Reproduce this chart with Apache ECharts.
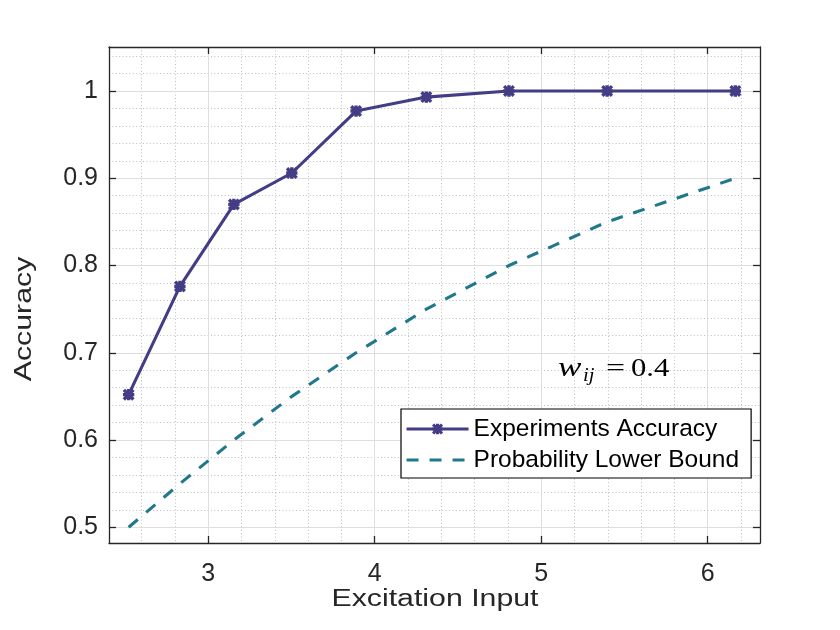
<!DOCTYPE html>
<html><head><meta charset="utf-8">
<script src="https://cdn.jsdelivr.net/npm/echarts@6/dist/echarts.min.js"></script>
<style>html,body{margin:0;padding:0;background:#fff}#c{width:840px;height:630px}</style>
</head><body><div id="c"></div>
<script>
// ---- data ----
const excitation = [2.522, 2.830, 3.154, 3.502, 3.888, 4.310, 4.806, 5.396, 6.166];
const accuracy   = [0.652, 0.776, 0.870, 0.906, 0.977, 0.993, 1.000, 1.000, 1.000];
const lowerBound = [0.50, 0.55, 0.60, 0.65, 0.70, 0.75, 0.80, 0.85, 0.90];
const seriesNames = ['Experiments Accuracy', 'Probability Lower Bound'];
const xTicks = [3, 4, 5, 6];
const yTicks = [0.5, 0.6, 0.7, 0.8, 0.9, 1.0];
const xMinorTicks = [2.6, 2.8, 3.2, 3.4, 3.6, 3.8, 4.2, 4.4, 4.6, 4.8, 5.2, 5.4, 5.6, 5.8, 6.2];
const yMinorTicks = [0.52, 0.54, 0.56, 0.58, 0.62, 0.64, 0.66, 0.68, 0.72, 0.74, 0.76, 0.78,
                     0.82, 0.84, 0.86, 0.88, 0.92, 0.94, 0.96, 0.98, 1.02, 1.04];
const xRange = [2.404, 6.314];
const yRange = [0.482, 1.0504];
const xTitle = 'Excitation Input';
const yTitle = 'Accuracy';

// ---- style ----
const axisColor = '#262626';
const purple = '#433d86';
const teal = '#21788c';
const asterisk = 'path://M7 0H13V20H7Z M0 7H20V13H0Z M3.6 -0.6L20.6 16.4L16.4 20.6L-0.6 3.6Z M20.6 3.6L3.6 20.6L-0.6 16.4L16.4 -0.6Z';

const lineCfg = {show: true, onZero: false, lineStyle: {color: axisColor, width: 1.3}};
const tickCfg = (vals) => ({show: true, inside: true, length: 7, customValues: vals, lineStyle: {color: axisColor, width: 1.3}});
const labelFont = {color: axisColor, fontSize: 25, fontFamily: 'Liberation Sans'};
const majorSplit = {show: true, lineStyle: {color: '#dedede', width: 1}};
const minorSplit = {show: true, lineStyle: {color: '#bdbdbd', width: 1, type: [1, 2.4]}};

const option = {
  animation: false,
  backgroundColor: '#fff',
  grid: {left: 109, right: 80, top: 47, bottom: 87, containLabel: false},
  xAxis: [
    {type: 'value', position: 'bottom', min: xRange[0], max: xRange[1],
     axisLine: lineCfg, axisTick: tickCfg(xTicks),
     axisLabel: Object.assign({customValues: xTicks, margin: 19, formatter: v => String(Math.round(v))}, labelFont),
     splitLine: majorSplit, z: 3},
    {type: 'value', position: 'top', min: xRange[0], max: xRange[1],
     axisLine: lineCfg, axisTick: tickCfg(xTicks), axisLabel: {show: false}, splitLine: {show: false}, z: 3},
    {type: 'value', position: 'bottom', min: xRange[0], max: xRange[1],
     axisLine: {show: false}, axisTick: {show: false, customValues: xMinorTicks},
     axisLabel: {show: false}, splitLine: minorSplit, z: 1}
  ],
  yAxis: [
    {type: 'value', position: 'left', min: yRange[0], max: yRange[1],
     axisLine: lineCfg, axisTick: tickCfg(yTicks),
     axisLabel: Object.assign({customValues: yTicks, margin: 11,
       formatter: v => (Math.abs(v - 1) < 1e-9 ? '1' : v.toFixed(1))}, labelFont),
     splitLine: majorSplit, z: 3},
    {type: 'value', position: 'right', min: yRange[0], max: yRange[1],
     axisLine: lineCfg, axisTick: tickCfg(yTicks), axisLabel: {show: false}, splitLine: {show: false}, z: 3},
    {type: 'value', position: 'left', min: yRange[0], max: yRange[1],
     axisLine: {show: false}, axisTick: {show: false, customValues: yMinorTicks},
     axisLabel: {show: false}, splitLine: minorSplit, z: 1}
  ],
  legend: {
    orient: 'vertical', left: 401, top: 409,
    itemWidth: 62, itemHeight: 14, itemGap: 5,
    padding: [7, 12, 5, 4],
    backgroundColor: '#fff', borderColor: '#000', borderWidth: 1.2, borderRadius: 0,
    lineStyle: {width: 3.1},
    textStyle: {fontSize: 24.5, fontFamily: 'Liberation Sans', color: '#000', lineHeight: 26},
    data: [
      {name: seriesNames[0], lineStyle: {width: 3.1, color: purple}},
      {name: seriesNames[1], lineStyle: {width: 3.1, color: teal, type: [12, 11]},
       itemStyle: {color: 'rgba(0,0,0,0)', borderWidth: 0, opacity: 0}}
    ]
  },
  series: [
    {name: seriesNames[0], type: 'line', xAxisIndex: 0, yAxisIndex: 0,
     data: excitation.map((x, i) => [x, accuracy[i]]),
     symbol: asterisk, symbolSize: 12, showSymbol: true,
     lineStyle: {color: purple, width: 3.1}, itemStyle: {color: purple}, z: 5},
    {name: seriesNames[1], type: 'line', xAxisIndex: 0, yAxisIndex: 0,
     data: excitation.map((x, i) => [x, lowerBound[i]]),
     symbol: 'none', showSymbol: false,
     lineStyle: {color: teal, width: 3.1, type: [12, 11]}, itemStyle: {color: teal}, z: 4}
  ],
  graphic: [
    {type: 'text', x: 435, y: 600, scaleX: 1.3, z: 10,
     style: {text: xTitle, fontSize: 23.3, fontFamily: 'Liberation Sans', fill: axisColor, align: 'center', verticalAlign: 'middle'}},
    {type: 'text', x: 24.3, y: 319, rotation: Math.PI / 2, scaleX: 1.3, z: 10,
     style: {text: yTitle, fontSize: 23.3, fontFamily: 'Liberation Sans', fill: axisColor, align: 'center', verticalAlign: 'middle'}},
    {type: 'text', x: 558, y: 369, scaleX: 1.3, z: 10,
     style: {text: 'w', fontSize: 27, fontStyle: 'italic', fontFamily: 'Liberation Serif', fill: '#000', align: 'left', verticalAlign: 'middle'}},
    {type: 'text', x: 583, y: 376, scaleX: 1.15, z: 10,
     style: {text: 'ij', fontSize: 18, fontStyle: 'italic', fontFamily: 'Liberation Serif', fill: '#000', align: 'left', verticalAlign: 'middle'}},
    {type: 'text', x: 606, y: 369, scaleX: 1.3, z: 10,
     style: {text: '=', fontSize: 26, fontFamily: 'Liberation Serif', fill: '#000', align: 'left', verticalAlign: 'middle'}},
    {type: 'text', x: 631, y: 369, scaleX: 1.18, z: 10,
     style: {text: '0.4', fontSize: 26, fontFamily: 'Liberation Serif', fill: '#000', align: 'left', verticalAlign: 'middle'}}
  ]
};
const chart = echarts.init(document.getElementById('c'), null, {renderer: 'canvas'});
chart.setOption(option);
</script></body></html>
